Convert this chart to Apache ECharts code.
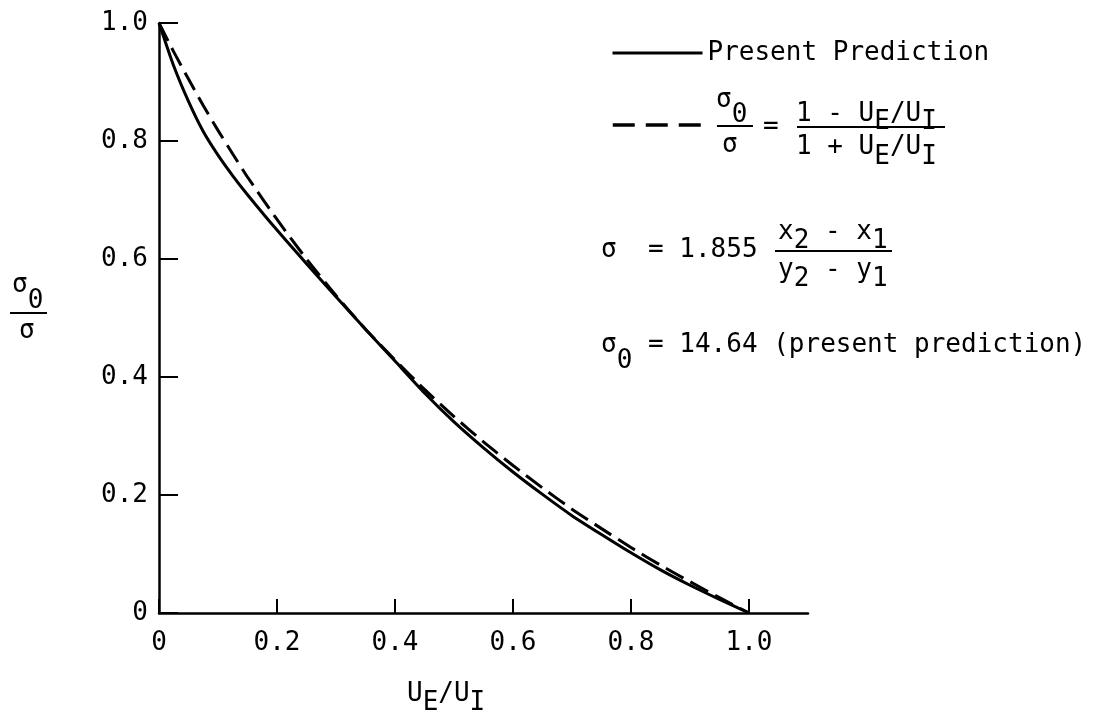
<!DOCTYPE html>
<html>
<head>
<meta charset="utf-8">
<script src="https://cdn.jsdelivr.net/npm/echarts@6/dist/echarts.min.js"></script>
<style>
  html, body { margin: 0; padding: 0; background: #fff; }
  #chart { width: 1110px; height: 713px; }
</style>
</head>
<body>
<div id="chart"></div>
<script>
// U_E/U_I
const ratio = [0, 0.025, 0.05, 0.075, 0.1, 0.125, 0.15, 0.2, 0.25, 0.3, 0.35, 0.4, 0.45, 0.5, 0.55, 0.6, 0.65, 0.7, 0.75, 0.8, 0.85, 0.9, 0.95, 1.0]
// sigma0/sigma, solid curve
const presentPrediction = [1.0, 0.927, 0.867, 0.816, 0.776, 0.741, 0.709, 0.649, 0.592, 0.536, 0.481, 0.427, 0.373, 0.324, 0.280, 0.239, 0.201, 0.165, 0.133, 0.102, 0.073, 0.047, 0.023, 0.0]
// sigma0/sigma, dashed curve
const simpleTheory = [1.0, 0.951, 0.905, 0.860, 0.818, 0.778, 0.739, 0.667, 0.600, 0.538, 0.481, 0.429, 0.379, 0.333, 0.290, 0.250, 0.212, 0.176, 0.143, 0.111, 0.081, 0.053, 0.026, 0.0]

const xTicks = [0, 0.2, 0.4, 0.6, 0.8, 1.0]
const xTickLabels = ['0', '0.2', '0.4', '0.6', '0.8', '1.0']
const yTicks = [0, 0.2, 0.4, 0.6, 0.8, 1.0]
const yTickLabels = ['0', '0.2', '0.4', '0.6', '0.8', '1.0']

const SOLID_NAME = 'Present Prediction'
const DASHED_NAME = 'σ0/σ = (1 - UE/UI)/(1 + UE/UI)'

const FONT = '"DejaVu Sans Mono", "Liberation Mono", monospace'
const FS = 26
const CW = FS * 0.602 // monospace advance

// text helpers for the hand-set formulas
function txt(x, y, s) {
  return {
    type: 'text', x: x, y: y, silent: true,
    style: { text: s, font: FS + 'px ' + FONT, fill: '#000', align: 'left', verticalAlign: 'middle' }
  }
}
function pieces(x, y, list) { // list of [text, dy]
  const out = []
  list.forEach(function (p) {
    out.push(txt(x, y + p[1], p[0]))
    x += p[0].length * CW
  })
  return out
}
function bar(x1, x2, y) {
  return { type: 'line', silent: true, shape: { x1: x1, y1: y, x2: x2, y2: y }, style: { stroke: '#000', lineWidth: 2 } }
}

const graphics = [].concat(
  // y axis name  sigma0 / sigma
  pieces(12, 285, [['σ', 0], ['0', 16]]),
  [bar(10, 47, 313)],
  pieces(19, 331, [['σ', 0]]),
  // x axis name  UE/UI
  pieces(407, 694, [['U', 0], ['E', 9], ['/U', 0], ['I', 9]]),
  // legend formula
  pieces(716, 100, [['σ', 0], ['0', 15]]),
  [bar(717, 753, 126)],
  pieces(722, 145, [['σ', 0]]),
  pieces(763, 127, [['=', 0]]),
  pieces(796, 114, [['1 - U', 0], ['E', 8], ['/U', 0], ['I', 8]]),
  [bar(797, 945, 127)],
  pieces(796, 147, [['1 + U', 0], ['E', 10], ['/U', 0], ['I', 10]]),
  // sigma definition
  pieces(601, 250, [['σ  = 1.855', 0]]),
  pieces(778, 232, [['x', 0], ['2', 9], [' - x', 0], ['1', 9]]),
  [bar(775, 892, 251)],
  pieces(778, 270, [['y', 0], ['2', 9], [' - y', 0], ['1', 9]]),
  // sigma0 value
  pieces(601, 345, [['σ', 0], ['0', 16], [' = 14.64 (present prediction)', 0]])
)

const chart = echarts.init(document.getElementById('chart'))

const legendCommon = {
  left: 606,
  itemWidth: 90, itemHeight: 14,
  selectedMode: false,
  itemStyle: { color: 'rgba(0,0,0,0)', borderWidth: 0 },
  textStyle: { fontFamily: FONT, fontSize: FS, color: '#000' }
}

const option = {
  animation: false,
  backgroundColor: '#fff',
  textStyle: { fontFamily: FONT, color: '#000' },
  grid: { left: 159, right: 302, top: 23, bottom: 100 },
  legend: [
    Object.assign({}, legendCommon, {
      data: [SOLID_NAME],
      top: 35,
      lineStyle: { width: 3 }
    }),
    Object.assign({}, legendCommon, {
      data: [DASHED_NAME],
      top: 113,
      formatter: function () { return '' },
      lineStyle: { type: [22, 11], width: 3.5 }
    })
  ],
  xAxis: {
    type: 'value', min: 0, max: 1.1,
    axisLine: { show: true, onZero: false, lineStyle: { color: '#000', width: 2.5 } },
    axisTick: { show: true, inside: true, length: 14, customValues: xTicks, lineStyle: { color: '#000', width: 2 } },
    axisLabel: {
      customValues: xTicks, margin: 17, color: '#000', fontFamily: FONT, fontSize: FS,
      formatter: function (v) { return xTickLabels[xTicks.indexOf(v)] }
    },
    splitLine: { show: false }
  },
  yAxis: {
    type: 'value', min: 0, max: 1, interval: 0.2,
    axisLine: { show: true, onZero: false, lineStyle: { color: '#000', width: 2.5 } },
    axisTick: { show: true, inside: true, length: 19, customValues: yTicks, lineStyle: { color: '#000', width: 2 } },
    axisLabel: {
      customValues: yTicks, margin: 11, color: '#000', fontFamily: FONT, fontSize: FS,
      formatter: function (v) { return yTickLabels[yTicks.indexOf(v)] }
    },
    splitLine: { show: false }
  },
  series: [
    {
      name: SOLID_NAME,
      type: 'line',
      symbol: 'none',
      smooth: 0.2,
      data: ratio.map(function (x, i) { return [x, presentPrediction[i]] }),
      itemStyle: { color: '#000' },
      lineStyle: { color: '#000', width: 3 }
    },
    {
      name: DASHED_NAME,
      type: 'line',
      symbol: 'none',
      smooth: 0.2,
      data: ratio.map(function (x, i) { return [x, simpleTheory[i]] }),
      itemStyle: { color: '#000' },
      lineStyle: { color: '#000', width: 3, type: [20, 8] }
    }
  ],
  graphic: graphics
}

chart.setOption(option)
</script>
</body>
</html>
